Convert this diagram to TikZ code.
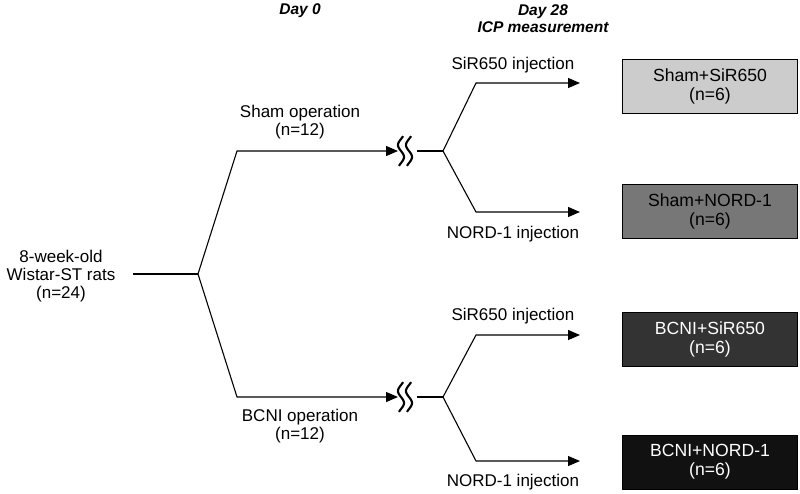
\documentclass[tikz,border=0pt]{standalone}
\usepackage{fontspec}
\setmainfont{Liberation Sans}
\usetikzlibrary{arrows.meta}
\definecolor{boxA}{RGB}{204,204,204}
\definecolor{boxB}{RGB}{119,119,119}
\definecolor{boxC}{RGB}{51,51,51}
\definecolor{boxD}{RGB}{17,17,17}
\begin{document}
\begin{tikzpicture}[x=1pt,y=-1pt,
  txt/.style={font=\fontsize{17}{18.2}\selectfont, align=center, inner sep=0pt},
  hdr/.style={font=\fontsize{15.5}{17}\selectfont\bfseries\itshape, align=center, inner sep=0pt},
  ln/.style={line width=1.1pt},
  arr/.style={ln, -{Triangle[length=12pt,width=10pt]}},
  grp/.style={draw=black, line width=1pt, minimum width=175pt, minimum height=54pt, align=center, inner sep=0pt, font=\fontsize{17.6}{19}\selectfont},
  wig/.style={line width=2.1pt}
]
\useasboundingbox (0,0) rectangle (800,493);

% headers
\node[hdr] (d0) at (300,11) {Day 0};
\node[hdr] (d28) at (543,19) {Day 28\\ICP measurement};

% start
\node[txt] (rats) at (61,276) {8-week-old\\Wistar-ST rats\\(n=24)};
\coordinate (s0) at (133,274);
\coordinate (f1) at (198,274);
\coordinate (cu) at (237,151);
\coordinate (cl) at (237,397);
\coordinate (au) at (398,151);
\coordinate (al) at (398,397);
\draw[ln] (s0) -- (f1);
\draw[arr] (f1) -- (cu) -- (au);
\draw[arr] (f1) -- (cl) -- (al);
\node[txt] (sham) at (300,122) {Sham operation\\(n=12)};
\node[txt] (bcni) at (300,426) {BCNI operation\\(n=12)};

% wiggles
\foreach \yy in {151,397}{
  \foreach \xx in {401,409}{
    \draw[wig] plot[domain=-0.12:1.12, samples=40, smooth] ({\xx - 3*sin(360*\x)}, {\yy-12+24*\x});
  }
}

% second forks
\coordinate (wu) at (417,151);
\coordinate (wl) at (417,397);
\coordinate (f2) at (443,151);
\coordinate (f3) at (443,397);
\draw[ln] (wu) -- (f2);
\draw[ln] (wl) -- (f3);
\coordinate (c1) at (476,83);
\coordinate (c2) at (476,212);
\coordinate (c3) at (476,335);
\coordinate (c4) at (476,461);
\coordinate (t1) at (580,83);
\coordinate (t2) at (580,212);
\coordinate (t3) at (580,335);
\coordinate (t4) at (580,461);
\draw[arr] (f2) -- (c1) -- (t1);
\draw[arr] (f2) -- (c2) -- (t2);
\draw[arr] (f3) -- (c3) -- (t3);
\draw[arr] (f3) -- (c4) -- (t4);
\node[txt] (l1) at (513,65) {SiR650 injection};
\node[txt] (l2) at (513,234) {NORD-1 injection};
\node[txt] (l3) at (513,316) {SiR650 injection};
\node[txt] (l4) at (513,482) {NORD-1 injection};

% boxes
\node[grp, fill=boxA] (b1) at (710,86) {Sham+SiR650\\(n=6)};
\node[grp, fill=boxB] (b2) at (710,211) {Sham+NORD-1\\(n=6)};
\node[grp, fill=boxC, text=white] (b3) at (710,339) {BCNI+SiR650\\(n=6)};
\node[grp, fill=boxD, text=white] (b4) at (710,462) {BCNI+NORD-1\\(n=6)};
\end{tikzpicture}
\end{document}
